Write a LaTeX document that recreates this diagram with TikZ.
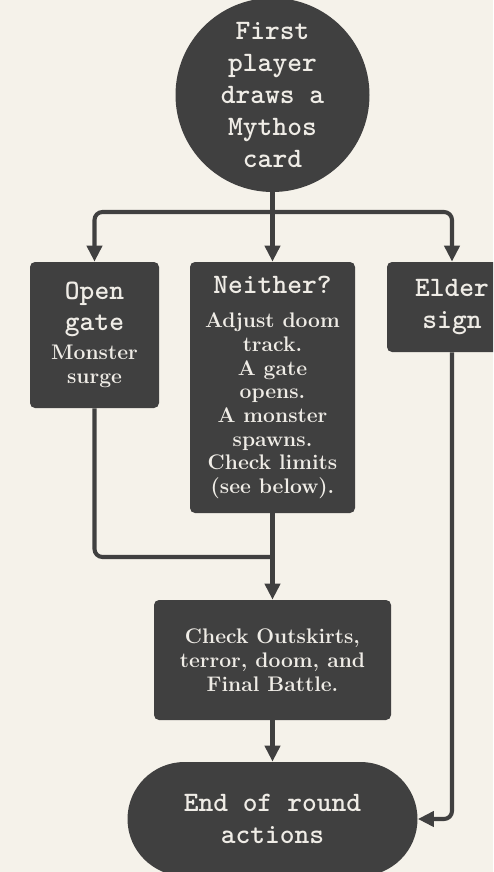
\documentclass[tikz,border=0pt]{standalone}
\usetikzlibrary{arrows.meta}

\definecolor{paper}{HTML}{F5F2EA}
\definecolor{ink}{HTML}{404040}
\definecolor{chalk}{HTML}{EFECE6}

\newcommand{\typefont}{\ttfamily\bfseries\fontsize{16}{18.2}\selectfont}
\newcommand{\bodyfont}{\bfseries\fontsize{12}{13.5}\selectfont}

\tikzset{
  box/.style={fill=ink, text=chalk, rounded corners=0.1cm, align=center, inner sep=0pt, font=\bodyfont},
  flow/.style={draw=ink, line width=2.3pt, rounded corners=0.16cm},
  tip/.style={-{Triangle[length=0.32cm,width=0.3cm]}}
}

\begin{document}
\begin{tikzpicture}
\useasboundingbox (0,0) rectangle (9.86,-17.44);
\fill[paper] (0,0) rectangle (9.86,-17.44);
\clip (0,0) rectangle (9.86,-17.44);

\node[box, circle, minimum size=3.88cm, font=\typefont] (first) at (5.45,-1.90)
  {First\\player\\draws a\\Mythos\\card};
\node[box, minimum width=2.58cm, minimum height=2.92cm] (open) at (1.89,-6.70)
  {\typefont Open\\[4pt]\typefont gate\\[3pt]Monster\\surge};
\node[box, minimum width=3.30cm, minimum height=5.02cm] (neither) at (5.45,-7.75)
  {\typefont Neither?\\[6pt]Adjust doom\\track.\\A gate\\opens.\\A monster\\spawns.\\Check limits\\(see below).};
\node[box, minimum width=2.60cm, minimum height=1.80cm, font=\typefont] (elder) at (9.04,-6.14)
  {Elder\\sign};
\node[box, minimum width=4.74cm, minimum height=2.40cm] (check) at (5.45,-13.20)
  {Check Outskirts,\\terror, doom, and\\Final Battle.};
\node[box, rounded corners=1.14cm, minimum width=5.80cm, minimum height=2.28cm, font=\typefont] (endround) at (5.45,-16.38)
  {End of round\\actions};

\coordinate (split) at (5.45,-4.24);
\coordinate (merge) at (5.45,-11.14);

\draw[flow] (first) -- (split);
\draw[flow, tip] (split) -| (open);
\draw[flow, tip] (split) -- (neither);
\draw[flow, tip] (split) -| (elder);
\draw[flow] (open) |- (merge);
\draw[flow, tip] (neither) -- (check);
\draw[flow, tip] (check) -- (endround);
\draw[flow, tip] (elder) |- (endround);
\end{tikzpicture}
\end{document}
